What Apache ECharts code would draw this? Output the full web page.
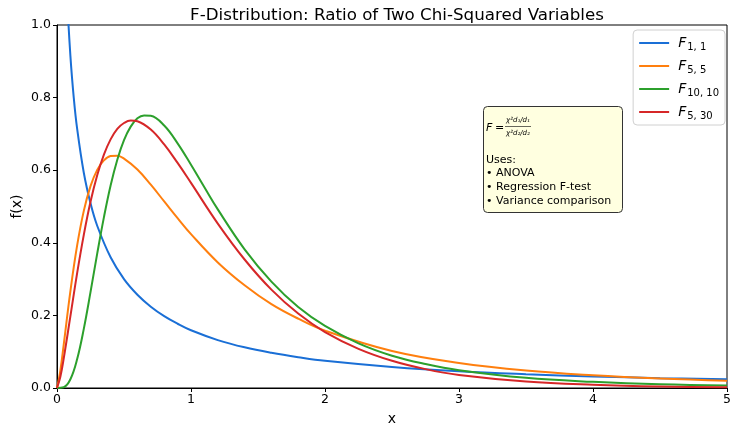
<!DOCTYPE html>
<html>
<head>
<meta charset="utf-8">
<script src="https://cdn.jsdelivr.net/npm/echarts@6/dist/echarts.min.js"></script>
<style>html,body{margin:0;padding:0;background:#fff}#c{width:731px;height:426px}</style>
</head>
<body>
<div id="c"></div>
<script>
// F(1,1)
var x11 = [0.05,0.075,0.1,0.125,0.15,0.2,0.25,0.3,0.4,0.5,0.6,0.7,0.8,0.9,1.0,1.2,1.4,1.6,1.8,2.0,2.5,3.0,3.5,4.0,4.5,5.0];
var y11 = [1.356,1.081,0.915,0.800,0.715,0.593,0.509,0.447,0.360,0.300,0.257,0.224,0.198,0.177,0.159,0.132,0.112,0.097,0.085,0.075,0.058,0.046,0.038,0.032,0.027,0.024];
// F(5,5)
var x55 = [0,0.025,0.05,0.1,0.15,0.2,0.25,0.3,0.35,0.4,0.45,0.5,0.6,0.7,0.8,0.9,1.0,1.2,1.4,1.6,1.8,2.0,2.5,3.0,3.5,4.0,4.5,5.0];
var y55 = [0,0.048,0.119,0.267,0.392,0.488,0.556,0.601,0.627,0.639,0.640,0.632,0.602,0.560,0.514,0.468,0.424,0.346,0.283,0.231,0.191,0.158,0.102,0.069,0.048,0.035,0.026,0.020];
// F(10,10)
var x1010 = [0,0.05,0.1,0.15,0.2,0.25,0.3,0.35,0.4,0.45,0.5,0.55,0.6,0.65,0.7,0.8,0.9,1.0,1.1,1.2,1.4,1.6,1.8,2.0,2.25,2.5,2.75,3.0,3.5,4.0,4.5,5.0];
var y1010 = [0,0.002,0.024,0.079,0.163,0.264,0.370,0.470,0.558,0.629,0.683,0.720,0.743,0.751,0.750,0.723,0.674,0.615,0.553,0.492,0.382,0.293,0.223,0.171,0.123,0.089,0.066,0.049,0.028,0.017,0.010,0.007];
// F(5,30)
var x530 = [0,0.025,0.05,0.1,0.15,0.2,0.25,0.3,0.35,0.4,0.45,0.5,0.55,0.6,0.7,0.8,0.9,1.0,1.2,1.4,1.6,1.8,2.0,2.25,2.5,2.75,3.0,3.5,4.0,4.5,5.0];
var y530 = [0,0.031,0.081,0.198,0.316,0.422,0.513,0.586,0.643,0.685,0.714,0.730,0.737,0.735,0.712,0.671,0.620,0.565,0.453,0.354,0.271,0.205,0.154,0.108,0.075,0.052,0.036,0.018,0.009,0.004,0.002];

var seriesNames = ['F11','F55','F1010','F530'];
var seriesSubs = ['1, 1','5, 5','10, 10','5, 30'];
var seriesColors = ['#1a6fd6','#ff7f0e','#2ca02c','#d62728'];
var xTicks = [0,1,2,3,4,5];
var yTicks = [0,0.2,0.4,0.6,0.8,1.0];

function pairs(xs, ys){ return xs.map(function(v,i){ return [v, ys[i]]; }); }
var datasets = [pairs(x11,y11), pairs(x55,y55), pairs(x1010,y1010), pairs(x530,y530)];

var FONT = 'DejaVu Sans';
var chart = echarts.init(document.getElementById('c'), null, {renderer:'canvas'});

var series = datasets.map(function(d,i){
  return {
    name: seriesNames[i], type:'line', data:d, smooth:0.4,
    showSymbol:false, symbol:'none', clip:true,
    lineStyle:{color:seriesColors[i], width:2},
    itemStyle:{color:seriesColors[i]}
  };
});

chart.setOption({
  animation:false,
  backgroundColor:'#fff',
  title:{
    text:'F-Distribution: Ratio of Two Chi-Squared Variables',
    left:392, top:2, textAlign:'center',
    textStyle:{fontFamily:FONT, fontSize:16.7, fontWeight:'normal', color:'#000'}
  },
  grid:{left:57, right:4, top:25, bottom:38, containLabel:false, outerBoundsMode:'none', show:true, borderColor:'#000', borderWidth:1, backgroundColor:'transparent'},
  xAxis:{
    type:'value', min:xTicks[0], max:xTicks[xTicks.length-1], interval:1,
    name:'x', nameLocation:'middle', nameGap:24, nameMoveOverlap:false,
    nameTextStyle:{fontFamily:FONT, fontSize:14, color:'#000'},
    axisLine:{show:true, lineStyle:{color:'#000', width:1}},
    axisTick:{show:true, length:4, lineStyle:{color:'#000'}},
    axisLabel:{fontFamily:FONT, fontSize:12.5, color:'#000', margin:5},
    splitLine:{show:false}
  },
  yAxis:{
    type:'value', min:yTicks[0], max:yTicks[yTicks.length-1], interval:0.2,
    name:'f(x)', nameLocation:'middle', nameGap:33, nameRotate:90, nameMoveOverlap:false,
    nameTextStyle:{fontFamily:FONT, fontSize:14, color:'#000'},
    axisLine:{show:true, lineStyle:{color:'#000', width:1}},
    axisTick:{show:true, length:4, lineStyle:{color:'#000'}},
    axisLabel:{fontFamily:FONT, fontSize:12.5, color:'#000', margin:6, formatter:function(v){return v.toFixed(1);}},
    splitLine:{show:false}
  },
  legend:{
    orient:'vertical', right:6, top:30,
    backgroundColor:'#fff', borderColor:'#d0d0d0', borderWidth:1, borderRadius:4,
    padding:[4,6,4,6], itemGap:5, itemWidth:30, itemHeight:12,
    icon:'path://M0,5 L30,5 L30,7 L0,7 Z',
    data:seriesNames,
    formatter:function(n){ var i=seriesNames.indexOf(n); return '{i|F}{s|'+seriesSubs[i]+'}'; },
    textStyle:{
      fontFamily:FONT, color:'#000',
      rich:{
        i:{fontFamily:FONT, fontSize:14, fontStyle:'italic', color:'#000', lineHeight:18, verticalAlign:'middle', padding:[0,0,0,4]},
        s:{fontFamily:FONT, fontSize:10, color:'#000', lineHeight:18, verticalAlign:'bottom', padding:[8,0,0,1]}
      }
    }
  },
  graphic:[
    {type:'rect', shape:{x:483.5, y:106.5, width:139, height:106, r:4}, style:{fill:'#ffffe0', stroke:'#333', lineWidth:1}, z:100},
    {type:'text', x:486, y:128, style:{text:'F', font:'italic 11px "DejaVu Sans"', fill:'#000', textVerticalAlign:'middle'}, z:101},
    {type:'text', x:495, y:128, style:{text:'=', font:'11px "DejaVu Sans"', fill:'#000', textVerticalAlign:'middle'}, z:101},
    {type:'text', x:506, y:120, style:{text:'χ²d₁/d₁', font:'italic 7px "DejaVu Sans"', fill:'#000', textVerticalAlign:'middle'}, z:101},
    {type:'line', shape:{x1:505, y1:126.5, x2:531, y2:126.5}, style:{stroke:'#000', lineWidth:0.6}, z:101},
    {type:'text', x:506, y:133, style:{text:'χ²d₂/d₂', font:'italic 7px "DejaVu Sans"', fill:'#000', textVerticalAlign:'middle'}, z:101},
    {type:'text', x:486, y:160, style:{text:'Uses:', font:'11px "DejaVu Sans"', fill:'#000', textVerticalAlign:'middle'}, z:101},
    {type:'text', x:486, y:173, style:{text:'• ANOVA', font:'11px "DejaVu Sans"', fill:'#000', textVerticalAlign:'middle'}, z:101},
    {type:'text', x:486, y:187, style:{text:'• Regression F-test', font:'11px "DejaVu Sans"', fill:'#000', textVerticalAlign:'middle'}, z:101},
    {type:'text', x:486, y:201, style:{text:'• Variance comparison', font:'11px "DejaVu Sans"', fill:'#000', textVerticalAlign:'middle'}, z:101}
  ],
  series:series
});
</script>
</body>
</html>
